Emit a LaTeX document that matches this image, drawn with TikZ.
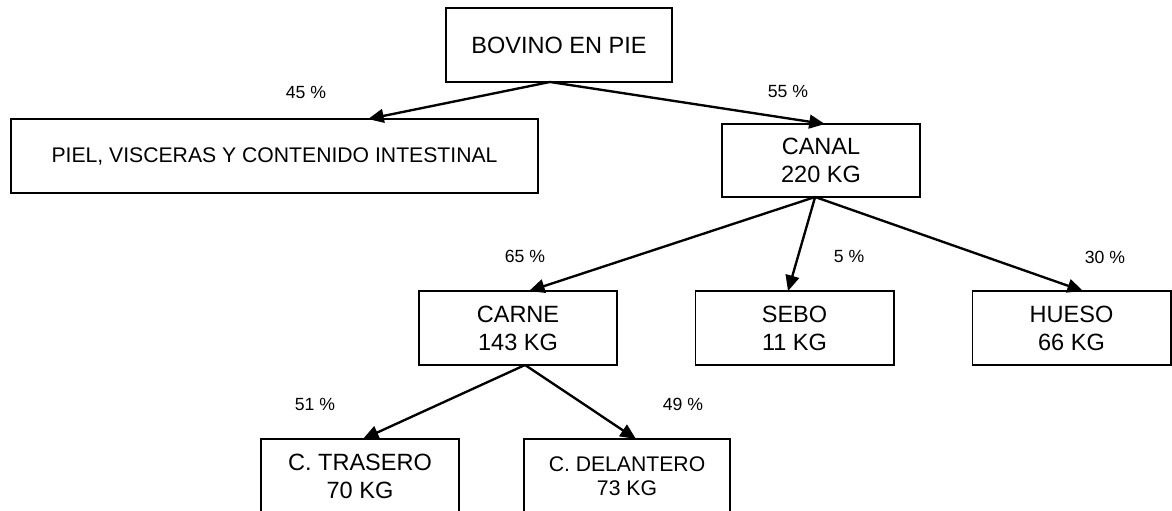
\documentclass[tikz,border=0pt]{standalone}
\usepackage{fontspec}
\setmainfont{Liberation Sans}
\usetikzlibrary{arrows.meta}

\begin{document}
\begin{tikzpicture}[x=0.51pt, y=-0.51pt,
    caja/.style={draw, line width=1pt, inner sep=0pt, outer sep=0pt, minimum width=101pt, minimum height=37.7pt, align=center, font=\fontsize{12}{14.3}\selectfont},
    cajachica/.style={caja, font=\fontsize{10.8}{12.3}\selectfont},
    porcentaje/.style={inner sep=0pt, font=\fontsize{9}{11}\selectfont},
    flecha/.style={line width=1.2pt, -{Triangle[length=8pt,width=7pt]}}]

    \clip (0,0) rectangle (1172,510);

    \node[caja, minimum width=115.3pt] (bovino) at (559,45) {BOVINO EN PIE};
    \node[cajachica, minimum width=268.8pt] (piel) at (274.5,156) {PIEL, VISCERAS Y CONTENIDO INTESTINAL};
    \node[caja, minimum height=37.2pt] (canal) at (821,160.5) {CANAL\\220 KG};

    \node[caja] (carne) at (518,328) {CARNE\\143 KG};
    \node[caja] (sebo) at (794.5,328) {SEBO\\11 KG};
    \node[caja] (hueso) at (1071.5,328) {HUESO\\66 KG};

    \node[caja] (trasero) at (360,476) {C. TRASERO\\70 KG};
    \node[cajachica, minimum width=105pt] (delantero) at (627,476) {C. DELANTERO\\73 KG};

    \node[porcentaje] (p45) at (306,92) {45 \%};
    \node[porcentaje] (p55) at (788,91) {55 \%};
    \node[porcentaje] (p65) at (525,256) {65 \%};
    \node[porcentaje] (p5) at (849,256) {5 \%};
    \node[porcentaje] (p30) at (1105,257) {30 \%};
    \node[porcentaje] (p51) at (315,404) {51 \%};
    \node[porcentaje] (p49) at (683,404) {49 \%};

    \draw[flecha] ([xshift=-4.6pt]bovino.south) -- ([xshift=-86.7pt]piel.north east);
    \draw[flecha] ([xshift=-4.6pt]bovino.south) -- ([xshift=2pt]canal.north);

    \draw[flecha] ([xshift=-3pt]canal.south) -- ([xshift=5.6pt]carne.north);
    \draw[flecha] ([xshift=-3pt]canal.south) -- ([xshift=-3.3pt]sebo.north);
    \draw[flecha] ([xshift=-3pt]canal.south) -- ([xshift=5.9pt]hueso.north);

    \draw[flecha] ([xshift=3.6pt]carne.south) -- ([xshift=1.5pt]trasero.north);
    \draw[flecha] ([xshift=3.6pt]carne.south) -- ([xshift=4.6pt]delantero.north);

\end{tikzpicture}
\end{document}
